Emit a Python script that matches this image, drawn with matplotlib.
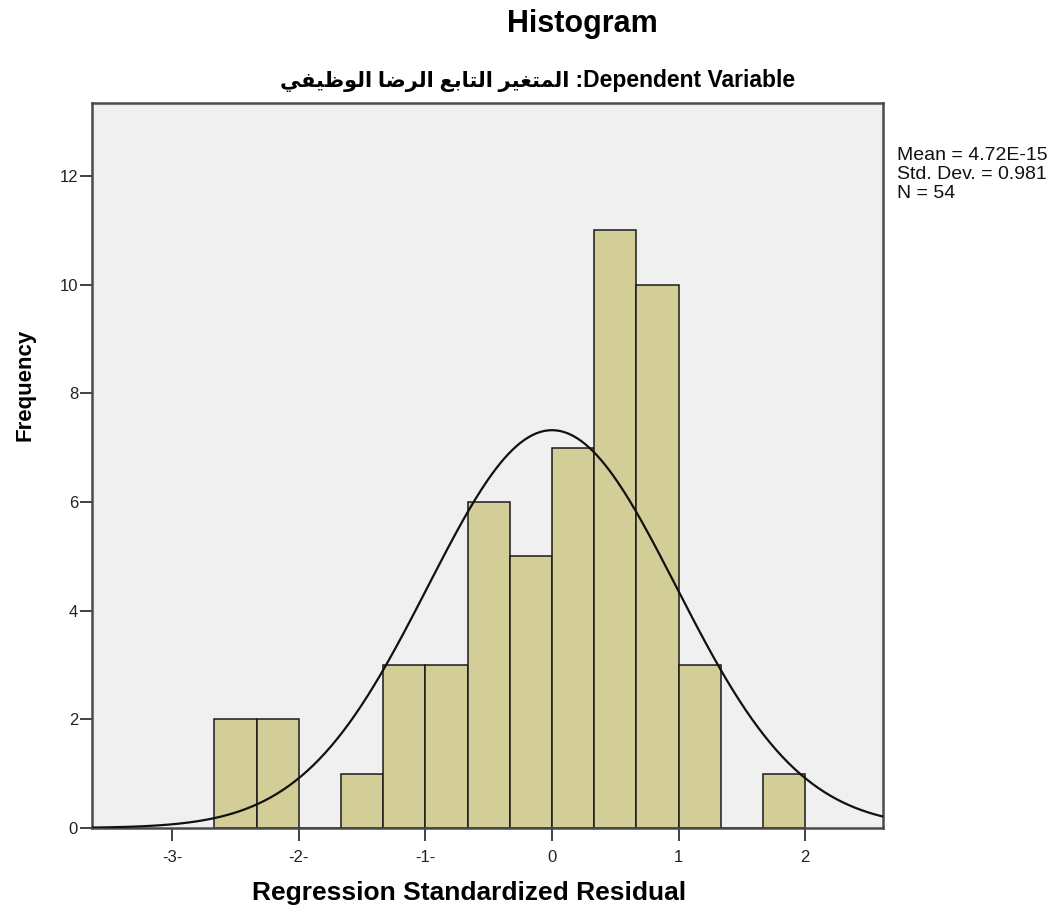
import numpy as np
import matplotlib
matplotlib.use("Agg")
import matplotlib.pyplot as plt

# bins of width 1/3 from -8/3 to 2, counts
bin_start = -8 / 3
bin_width = 1 / 3
counts = [2, 2, 0, 1, 3, 3, 6, 5, 7, 11, 10, 3, 0, 1]

mean = 4.72e-15
std_dev = 0.981
n_cases = 54

x_ticks = [-3, -2, -1, 0, 1, 2]
x_tick_labels = ["-3-", "-2-", "-1-", "0", "1", "2"]
y_ticks = [0, 2, 4, 6, 8, 10, 12]

title = "Histogram"
subtitle_words = ["المتغير", "التابع", "الرضا", "الوظيفي"]  # reading order
subtitle_tail = " :Dependent Variable"

# minimal arabic shaping (presentation forms), since matplotlib does no shaping
FORMS = {
    "ا": (0xFE8D, 0xFE8E, None, None),
    "ب": (0xFE8F, 0xFE90, 0xFE91, 0xFE92),
    "ت": (0xFE95, 0xFE96, 0xFE97, 0xFE98),
    "ر": (0xFEAD, 0xFEAE, None, None),
    "ض": (0xFEBD, 0xFEBE, 0xFEBF, 0xFEC0),
    "ظ": (0xFEC5, 0xFEC6, 0xFEC7, 0xFEC8),
    "ع": (0xFEC9, 0xFECA, 0xFECB, 0xFECC),
    "غ": (0xFECD, 0xFECE, 0xFECF, 0xFED0),
    "ف": (0xFED1, 0xFED2, 0xFED3, 0xFED4),
    "ل": (0xFEDD, 0xFEDE, 0xFEDF, 0xFEE0),
    "م": (0xFEE1, 0xFEE2, 0xFEE3, 0xFEE4),
    "و": (0xFEED, 0xFEEE, None, None),
    "ي": (0xFEF1, 0xFEF2, 0xFEF3, 0xFEF4),
}


def shape_word(w):
    out = []
    for i, c in enumerate(w):
        iso, fin, ini, med = FORMS[c]
        prev_j = i > 0 and FORMS[w[i - 1]][2] is not None
        next_j = i < len(w) - 1 and ini is not None
        if prev_j and next_j:
            out.append(chr(med))
        elif prev_j:
            out.append(chr(fin))
        elif next_j:
            out.append(chr(ini))
        else:
            out.append(chr(iso))
    return "".join(reversed(out))


fonts = ["Liberation Sans", "DejaVu Sans"]
plt.rcParams["font.family"] = fonts

W, H = 1061, 919
fig = plt.figure(figsize=(W / 100, H / 100), dpi=100)
fig.patch.set_facecolor("white")
ax = fig.add_axes([92 / W, 91 / H, 791 / W, 725 / H])
ax.set_facecolor("#f0f0f0")

edges = bin_start + bin_width * np.arange(len(counts))
ax.bar(edges, counts, width=bin_width, align="edge", color="#d3cd97",
       edgecolor="#1a1a1a", linewidth=1.1, zorder=2)

xs = np.linspace(-3.7, 2.7, 400)
curve = n_cases * bin_width * np.exp(-0.5 * ((xs - mean) / std_dev) ** 2) / (std_dev * np.sqrt(2 * np.pi))
ax.plot(xs, curve, color="#111111", linewidth=1.6, zorder=3)

ax.set_xlim(-3.633, 2.614)
ax.set_ylim(0, 13.34)
ax.set_xticks(x_ticks)
ax.set_xticklabels(x_tick_labels)
ax.set_yticks(y_ticks)
ax.tick_params(axis="x", length=9, width=1.2, pad=7, labelsize=12, colors="#222222")
ax.tick_params(axis="y", length=9, width=1.2, pad=1, labelsize=12, colors="#222222")
for s in ax.spines.values():
    s.set_color("#4a4a4a")
    s.set_linewidth(1.8)

fig.text(582 / W, 1 - 32 / H, title, ha="center", va="baseline",
         fontsize=22, fontweight="bold")

# right-to-left paragraph: english at the right, arabic words run leftwards
eng = fig.text(795 / W, 1 - 87 / H, subtitle_tail, ha="right", va="baseline",
               fontsize=16.5, fontweight="bold")
renderer = fig.canvas.get_renderer()
left_px = eng.get_window_extent(renderer).x0
arabic = " ".join(shape_word(w) for w in reversed(subtitle_words))
fig.text(left_px / W, 1 - 87 / H, arabic, ha="right", va="baseline",
         fontsize=15, fontweight="bold")

fig.text(469 / W, 1 - 900 / H, "Regression Standardized Residual", ha="center",
         va="baseline", fontsize=19, fontweight="bold")
fig.text(25 / W, 1 - 385 / H, "Frequency", ha="center", va="center",
         rotation=90, fontsize=16, fontweight="bold")

stats = ["Mean = 4.72E-15", "Std. Dev. = 0.981", "N = %d" % n_cases]
for i, s in enumerate(stats):
    fig.text(897 / W, 1 - (160 + 19 * i) / H, s, ha="left", va="baseline",
             fontsize=14, color="#111111")

fig.savefig("out.png", dpi=100)
